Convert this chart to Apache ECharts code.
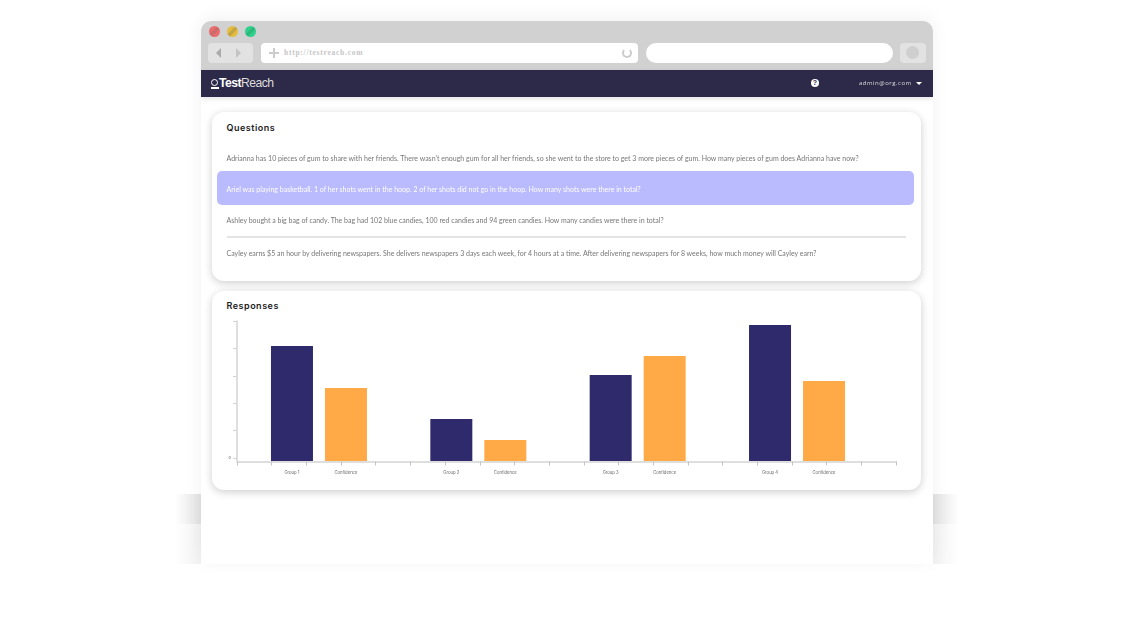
<!DOCTYPE html>
<html>
<head>
<meta charset="utf-8">
<script src="https://cdn.jsdelivr.net/npm/echarts@6/dist/echarts.min.js"></script>
<style>
html,body{margin:0;padding:0;background:#fff;width:1133px;height:624px;overflow:hidden;font-family:"Inter",sans-serif}
.abs{position:absolute}
.side{width:26px}
.browser{left:201px;top:21px;width:732px;height:543px;background:#fff;border-radius:10px 10px 0 0;box-shadow:0 -3px 18px rgba(0,0,0,.06);overflow:hidden}
.bar{left:0;top:0;width:732px;height:49px;background:#d1d1d1}
.dot{width:11px;height:11px;border-radius:50%;top:4.5px}
.navbtn{left:7px;top:22px;width:45px;height:20px;background:#e2e2e2;border-radius:4px}
.tri{top:5px;width:0;height:0;border:5px solid transparent}
.url{left:60px;top:22px;width:377px;height:20px;background:#fff;border-radius:4px;font:bold 7.5px "Liberation Serif",serif;letter-spacing:.75px;color:#c6c6c6;line-height:20px;text-indent:23px}
.plus{background:#ccc}
.reload{left:361px;top:5px;width:6px;height:6px;border:2px solid #ccc;border-top-color:transparent;border-radius:50%}
.search{left:445px;top:22px;width:247px;height:20px;background:#fff;border-radius:10px}
.endbtn{left:699px;top:22px;width:26px;height:20px;background:#e2e2e2;border-radius:4px}
.endbtn i{position:absolute;left:6px;top:3px;width:13px;height:13px;border-radius:50%;background:#cfcfcf}
.head{left:0;top:49px;width:732px;height:27px;background:#2d2a49;box-shadow:0 2px 5px rgba(0,0,0,.1);color:#fff}
.ring{left:10px;top:9px;width:5px;height:5px;border:1.5px solid #fff;border-radius:50%}
.ringfoot{left:10px;top:17px;width:8px;height:1.5px;background:#fff}
.logo{left:18px;top:5px;font:12.2px/17px "Liberation Sans",sans-serif;letter-spacing:-.55px;color:#ddd}
.logo b{font-weight:bold;color:#fff}
.user{left:658px;top:7px;font:6px/13px "Open Sans",sans-serif;letter-spacing:.5px;color:#ddd;will-change:opacity}
.help{left:610px;top:9px;width:8px;height:8px;border-radius:50%;background:#fff;color:#2d2a49;font:bold 7px/8px "Liberation Sans";text-align:center}
.caret{left:715px;top:12px;width:0;height:0;border:3px solid transparent;border-top:3px solid #fff}
.card{background:#fff;border-radius:12px;box-shadow:0 2px 8px rgba(0,0,0,.2)}
.title{font:600 9px/12px "Inter",sans-serif;letter-spacing:.5px;color:#222;left:226.5px}
.q{left:226.5px;font:7px/10px "Lato",sans-serif;color:#777;white-space:nowrap;will-change:opacity}
.sel{left:217px;top:171px;width:697px;height:34px;background:#babaff;border-radius:5px}
.rule{left:227px;top:236px;width:679px;height:2px;background:#e4e4e4}
#chart{left:212px;top:291px;width:709px;height:199px}
</style>
</head>
<body>
<div class="abs side" style="left:175px;top:494px;height:30px;background:linear-gradient(to right,rgba(225,225,225,0),#e2e2e2)"></div>
<div class="abs side" style="left:175px;top:524px;height:40px;background:linear-gradient(to right,rgba(240,240,240,0),#f2f2f2)"></div>
<div class="abs side" style="left:933px;top:494px;height:30px;background:linear-gradient(to left,rgba(225,225,225,0),#e2e2e2)"></div>
<div class="abs side" style="left:933px;top:524px;height:40px;background:linear-gradient(to left,rgba(240,240,240,0),#f2f2f2)"></div>
<div class="abs browser">
  <div class="abs bar">
    <div class="abs dot" style="left:8px;background:linear-gradient(135deg,#e96c6c 40%,#cf6a6c 40%,#cf6a6c 60%,#e96c6c 60%)"></div>
    <div class="abs dot" style="left:26px;background:linear-gradient(135deg,#e3bd3f 40%,#c6a545 40%,#c6a545 60%,#e3bd3f 60%)"></div>
    <div class="abs dot" style="left:44px;background:linear-gradient(135deg,#2fd08a 40%,#2abb7d 40%,#2abb7d 60%,#2fd08a 60%)"></div>
    <div class="abs navbtn">
      <div class="abs tri" style="left:3px;border-right-color:#aaa"></div>
      <div class="abs tri" style="left:28px;border-left-color:#c4c4c4"></div>
    </div>
    <div class="abs url">http://testreach.com
      <div class="abs plus" style="left:8px;top:9px;width:10px;height:2px"></div>
      <div class="abs plus" style="left:12px;top:5px;width:2px;height:10px"></div>
      <div class="abs reload"></div>
    </div>
    <div class="abs search"></div>
    <div class="abs endbtn"><i></i></div>
  </div>
  <div class="abs head">
    <div class="abs ring"></div>
    <div class="abs ringfoot"></div>
    <div class="abs logo"><b>Test</b>Reach</div>
    <div class="abs help">?</div>
    <div class="abs user">admin@org.com</div>
    <div class="abs caret"></div>
  </div>
</div>
<div class="abs card" style="left:212px;top:112px;width:709px;height:169px"></div>
<div class="abs card" style="left:212px;top:291px;width:709px;height:199px"></div>
<div class="abs title" style="top:122px">Questions</div>
<div class="abs q" style="top:153px">Adrianna has 10 pieces of gum to share with her friends. There wasn't enough gum for all her friends, so she went to the store to get 3 more pieces of gum. How many pieces of gum does Adrianna have now?</div>
<div class="abs sel"></div>
<div class="abs q" style="top:184px;color:#fff">Ariel was playing basketball. 1 of her shots went in the hoop. 2 of her shots did not go in the hoop. How many shots were there in total?</div>
<div class="abs q" style="top:215px">Ashley bought a big bag of candy. The bag had 102 blue candies, 100 red candies and 94 green candies. How many candies were there in total?</div>
<div class="abs rule"></div>
<div class="abs q" style="top:248px">Cayley earns $5 an hour by delivering newspapers. She delivers newspapers 3 days each week, for 4 hours at a time. After delivering newspapers for 8 weeks, how much money will Cayley earn?</div>
<div class="abs title" style="top:300px">Responses</div>
<div class="abs" id="chart"></div>
<script>
var groups = ['Group 1', 'Group 2', 'Group 3', 'Group 4'];
var groupValues = [4.11, 1.50, 3.07, 4.86];
var confidenceValues = [2.61, 0.75, 3.75, 2.86];
var yTicks = [0, 1, 2, 3, 4, 5];

var axisGrey = '#d4d4d4';
var chart = echarts.init(document.getElementById('chart'));
chart.setOption({
	animation: false,
	grid: [
		// ruler grid: the ticks under the bars do not line up with the groups
		{left: 25, top: 30, width: 659, height: 137},
		// bars, one band per group
		{left: 27.3, top: 30, width: 637.4, height: 140}
	],
	xAxis: [
		{
			gridIndex: 0, type: 'value', min: 0, max: 19, interval: 1, offset: 3.5,
			axisLine: {onZero: false, lineStyle: {color: axisGrey, width: 1.5}},
			axisTick: {length: 4, lineStyle: {color: '#c4c4c4'}},
			axisLabel: {show: false},
			splitLine: {show: false}
		},
		{
			gridIndex: 1, type: 'category', data: groups,
			axisLine: {show: false}, axisTick: {show: false}, axisLabel: {show: false}
		}
	],
	yAxis: [
		{
			gridIndex: 0, type: 'value', min: yTicks[0], max: yTicks[yTicks.length - 1], interval: 1,
			axisLine: {show: false},
			axisTick: {show: true, length: 4, lineStyle: {color: axisGrey}},
			axisLabel: {
				margin: 6, fontSize: 4, color: '#666', fontFamily: 'Inter',
				formatter: function (v) { return v === 0 ? '0' : ''; }
			},
			splitLine: {show: false}
		},
		{
			gridIndex: 1, type: 'value', min: 0, max: 5, offset: 2.3,
			axisLine: {show: true, onZero: false, lineStyle: {color: axisGrey, width: 1.5}},
			axisTick: {show: false}, axisLabel: {show: false}, splitLine: {show: false}
		}
	],
	series: [
		{
			name: 'Group', type: 'bar', xAxisIndex: 1, yAxisIndex: 1,
			data: groupValues, barWidth: 42, barGap: 12 / 42,
			itemStyle: {color: '#2f2a6b'},
			label: {show: true, position: 'insideBottom', distance: -14, formatter: '{b}', fontSize: 4.2, color: '#666', fontFamily: 'Inter'}
		},
		{
			name: 'Confidence', type: 'bar', xAxisIndex: 1, yAxisIndex: 1,
			data: confidenceValues, barWidth: 42,
			itemStyle: {color: '#ffa947'},
			label: {show: true, position: 'insideBottom', distance: -14, formatter: '{a}', fontSize: 4.2, color: '#666', fontFamily: 'Inter'}
		}
	]
});
</script>
</body>
</html>
